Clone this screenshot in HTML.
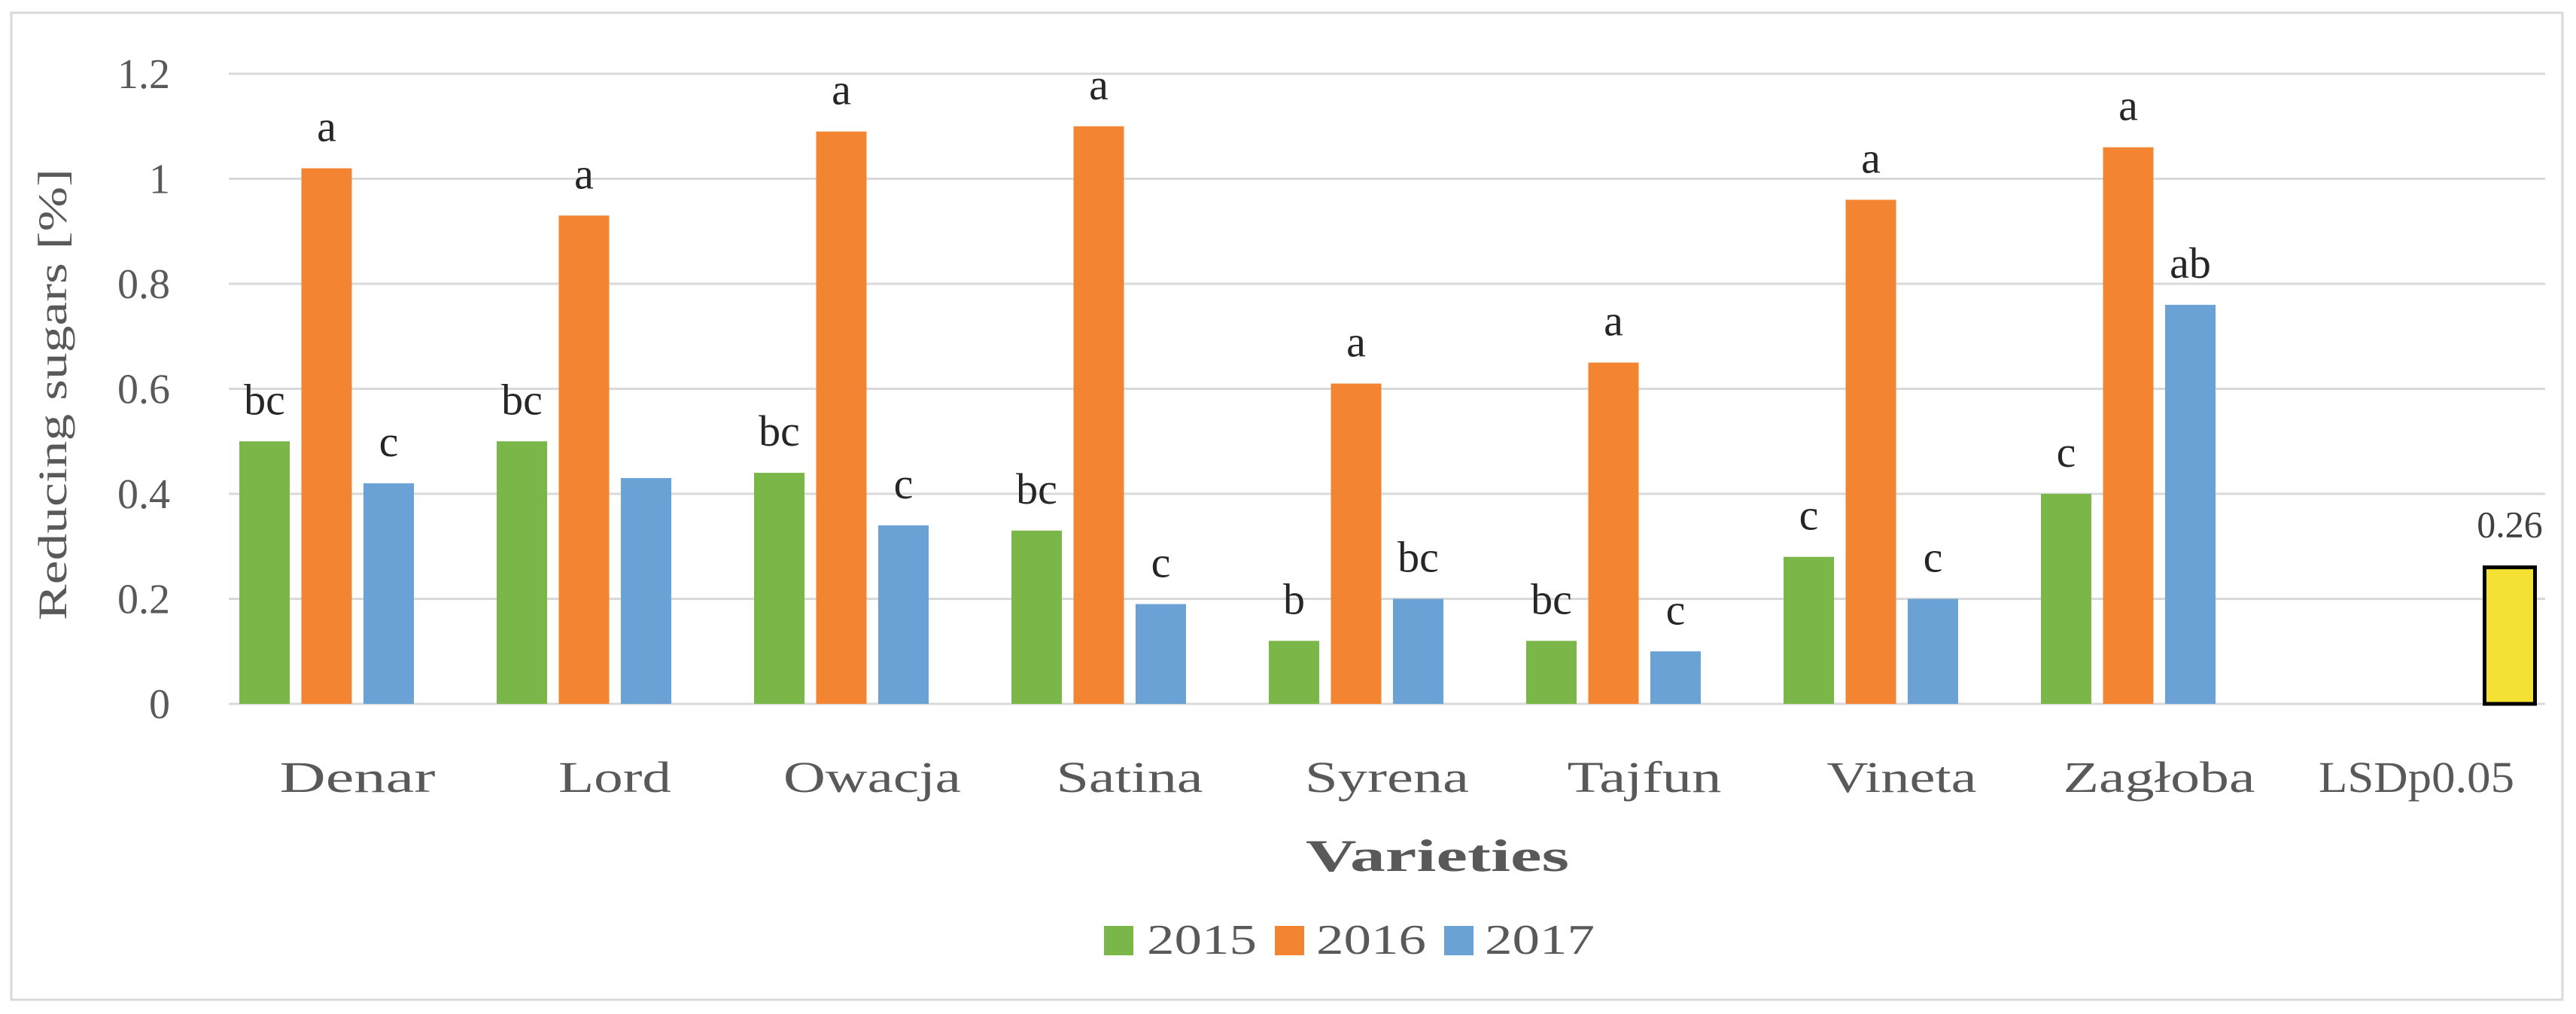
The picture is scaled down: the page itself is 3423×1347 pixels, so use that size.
<!DOCTYPE html>
<html><head><meta charset="utf-8"><style>
html,body{margin:0;padding:0;background:#fff}
svg{display:block}
text{font-family:"Liberation Serif",serif}
</style></head><body>
<svg id="chart" width="3423" height="1347" viewBox="0 0 3423 1347" xmlns="http://www.w3.org/2000/svg">
<rect x="15" y="17" width="3390" height="1311" fill="#fff" stroke="#d9d9d9" stroke-width="3"/>
<g id="grid"></g><g id="bars"></g><g id="labels"></g>
<text transform="translate(88,524) rotate(-90)" text-anchor="middle" font-size="54" fill="#595959" textLength="600" lengthAdjust="spacingAndGlyphs">Reducing sugars [%]</text>
<text x="1910" y="1157" text-anchor="middle" font-size="60" font-weight="bold" fill="#595959" textLength="350" lengthAdjust="spacingAndGlyphs">Varieties</text>
<g>
<rect x="1467" y="1230" width="39" height="39" fill="#7ab648"/>
<text x="1524" y="1267" font-size="56" fill="#595959" textLength="146" lengthAdjust="spacingAndGlyphs">2015</text>
<rect x="1694" y="1230" width="39" height="39" fill="#f28432"/>
<text x="1749" y="1267" font-size="56" fill="#595959" textLength="146" lengthAdjust="spacingAndGlyphs">2016</text>
<rect x="1919" y="1230" width="39" height="39" fill="#6aa2d6"/>
<text x="1973" y="1267" font-size="56" fill="#595959" textLength="146" lengthAdjust="spacingAndGlyphs">2017</text>
</g>
</svg>
<script>
const categories = ["Denar","Lord","Owacja","Satina","Syrena","Tajfun","Vineta","Zagłoba","LSDp0.05"];
const values2015 = [0.50,0.50,0.44,0.33,0.12,0.12,0.28,0.40,null];
const values2016 = [1.02,0.93,1.09,1.10,0.61,0.65,0.96,1.06,null];
const values2017 = [0.42,0.43,0.34,0.19,0.20,0.10,0.20,0.76,null];
const valuesLSD = [null,null,null,null,null,null,null,null,0.26];
const letters2015 = ["bc","bc","bc","bc","b","bc","c","c",""];
const letters2016 = ["a","a","a","a","a","a","a","a",""];
const letters2017 = ["c","","c","c","bc","c","c","ab",""];
const lettersLSD = ["","","","","","","","","0.26"];
const yTicks = [0,0.2,0.4,0.6,0.8,1,1.2];
const catWidths = [207,150,236,195,218,205,199,255,260];

const NS="http://www.w3.org/2000/svg";
const plotLeft=304, band=342, y0=935, yTop=98, yMax=1.2;
function yScale(v){return y0-(v/yMax)*(y0-yTop);}
function xBar(i,k){return plotLeft+i*band+14+k*82.5;}
function mk(tag,attrs,parent){const e=document.createElementNS(NS,tag);for(const a in attrs)e.setAttribute(a,attrs[a]);parent.appendChild(e);return e;}
const grid=document.getElementById('grid'),bars=document.getElementById('bars'),labels=document.getElementById('labels');
yTicks.forEach(t=>{
  const l=mk('line',{x1:plotLeft,x2:plotLeft+band*categories.length,y1:yScale(t),y2:yScale(t),stroke:'#d9d9d9','stroke-width':3},grid);
  
  
  const tx=mk('text',{x:226,y:yScale(t)+19,'text-anchor':'end','font-size':56,fill:'#595959'},grid);
  tx.textContent=String(t);
  
  
});
const series=[[values2015,letters2015,'#7ab648','2015'],[values2016,letters2016,'#f28432','2016'],[values2017,letters2017,'#6aa2d6','2017'],[valuesLSD,lettersLSD,'#f5e133','lsd']];
series.forEach((s,k)=>{
  s[0].forEach((v,i)=>{
    if(v===null)return;
    const x=xBar(i,k), y=yScale(v);
    const attrs={x:x,y:y,width:67,height:y0-y,fill:s[2]};
    if(k===3){attrs.stroke='#000';attrs['stroke-width']=5;}
    const r=mk('rect',attrs,bars);
    
    
    const lt=s[1][i];
    if(lt){
      const t=mk('text',{x:x+33.5,y:y-(k===3?40:36),'text-anchor':'middle','font-size':k===3?50:58,fill:k===3?'#404040':'#262626'},labels);
      t.textContent=lt;
      
      
    }
  });
});
categories.forEach((c,i)=>{
  const t=mk('text',{x:plotLeft+i*band+band/2,y:1052,'text-anchor':'middle','font-size':58,fill:'#595959',textLength:catWidths[i],lengthAdjust:'spacingAndGlyphs'},labels);
  t.textContent=c;
  
  
});
</script>
</body></html>
